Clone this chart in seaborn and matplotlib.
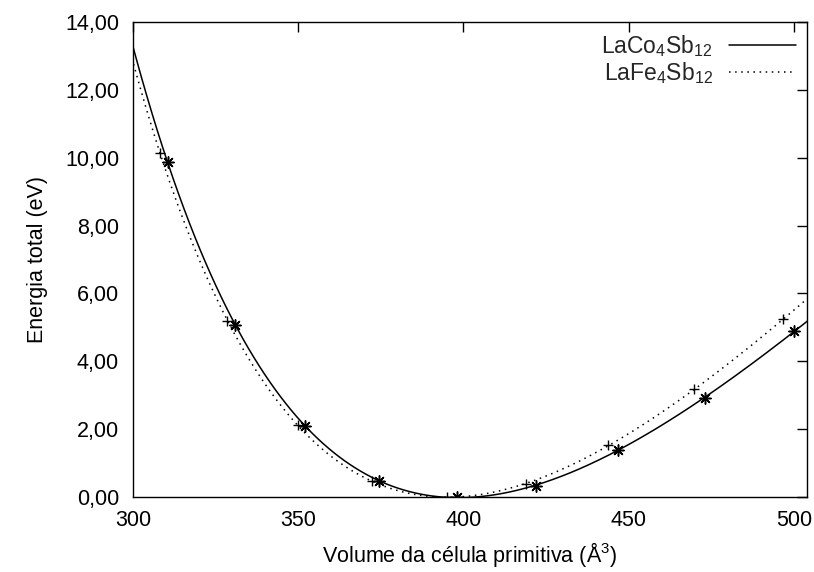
import numpy as np
import pandas as pd
import matplotlib
matplotlib.use("Agg")
import matplotlib.pyplot as plt
import matplotlib.ticker as mticker
import seaborn as sns

# Total energy vs primitive cell volume for two skutterudites
vol_co = [310.5, 330.9, 352.0, 374.5, 398.0, 422.0, 446.7, 473.0, 500.1]
en_co = [9.86, 5.08, 2.10, 0.48, 0.00, 0.33, 1.38, 2.93, 4.88]
vol_fe = [308.2, 328.5, 350.0, 372.3, 395.0, 419.1, 443.8, 469.8, 496.8]
en_fe = [10.14, 5.19, 2.12, 0.47, 0.00, 0.38, 1.52, 3.17, 5.24]

label_co = r"LaCo$_4$Sb$_{12}$"
label_fe = r"LaFe$_4$Sb$_{12}$"
x_ticks = [300, 350, 400, 450, 500]
y_ticks = [0, 2, 4, 6, 8, 10, 12, 14]


def birch_fit(v, e, grid):
    # Birch-Murnaghan energy is a cubic polynomial in V^(-2/3)
    coef = np.polyfit(np.asarray(v) ** (-2.0 / 3.0), e, 3)
    return np.polyval(coef, grid ** (-2.0 / 3.0))


sns.set_theme(style="white")
plt.rcParams["font.family"] = ["Liberation Sans", "DejaVu Sans"]
plt.rcParams["mathtext.fontset"] = "custom"
plt.rcParams["mathtext.rm"] = "Liberation Sans"
plt.rcParams["mathtext.it"] = "Liberation Sans"

W, H = 814, 572
L, R, T, B = 133, 807, 22, 497
fig = plt.figure(figsize=(W / 100, H / 100), dpi=100)
ax = fig.add_axes([L / W, 1 - B / H, (R - L) / W, (B - T) / H])

grid = np.linspace(295, 510, 400)
curve_co = pd.DataFrame({"V": grid, "E": birch_fit(vol_co, en_co, grid)})
curve_fe = pd.DataFrame({"V": grid, "E": birch_fit(vol_fe, en_fe, grid)})

sns.lineplot(data=curve_co, x="V", y="E", color="black", lw=1.1, ax=ax, label=label_co)
sns.lineplot(data=curve_fe, x="V", y="E", color="black", lw=1.1, ls=(0, (1, 3)),
             ax=ax, label=label_fe)

pts_co = pd.DataFrame({"V": vol_co, "E": en_co})
pts_fe = pd.DataFrame({"V": vol_fe, "E": en_fe})
sns.scatterplot(data=pts_co, x="V", y="E", marker=(8, 2, 0), s=65, color="black",
                linewidth=1.1, ax=ax, legend=False, zorder=3)
sns.scatterplot(data=pts_fe, x="V", y="E", marker="+", s=60, color="black",
                linewidth=1.0, ax=ax, legend=False, zorder=3)

ax.set_xlim(300, 504)
ax.set_ylim(0, 14)
ax.set_xticks(x_ticks)
ax.set_yticks(y_ticks)
ax.yaxis.set_major_formatter(mticker.FuncFormatter(lambda v, p: f"{v:.2f}".replace(".", ",")))
ax.tick_params(direction="in", length=7, width=1, top=True, right=True,
               labelsize=15.5, colors="black")
ax.tick_params(axis="x", pad=9)
ax.tick_params(axis="y", pad=10)
for sp in ax.spines.values():
    sp.set_color("black")
    sp.set_linewidth(1.0)

ax.set_xlabel(r"Volume da célula primitiva (Å$^3$)", fontsize=15.5, color="black", labelpad=7)
ax.set_ylabel("Energia total (eV)", fontsize=15.5, color="black", labelpad=12)

leg = ax.legend(loc="upper right", frameon=False, markerfirst=False, fontsize=16.5,
                handlelength=2.9, handletextpad=0.7, borderaxespad=0.2,
                borderpad=0.3, labelspacing=0.05)
for t in leg.get_texts():
    t.set_ha("right")

fig.savefig("out.png", dpi=100)
